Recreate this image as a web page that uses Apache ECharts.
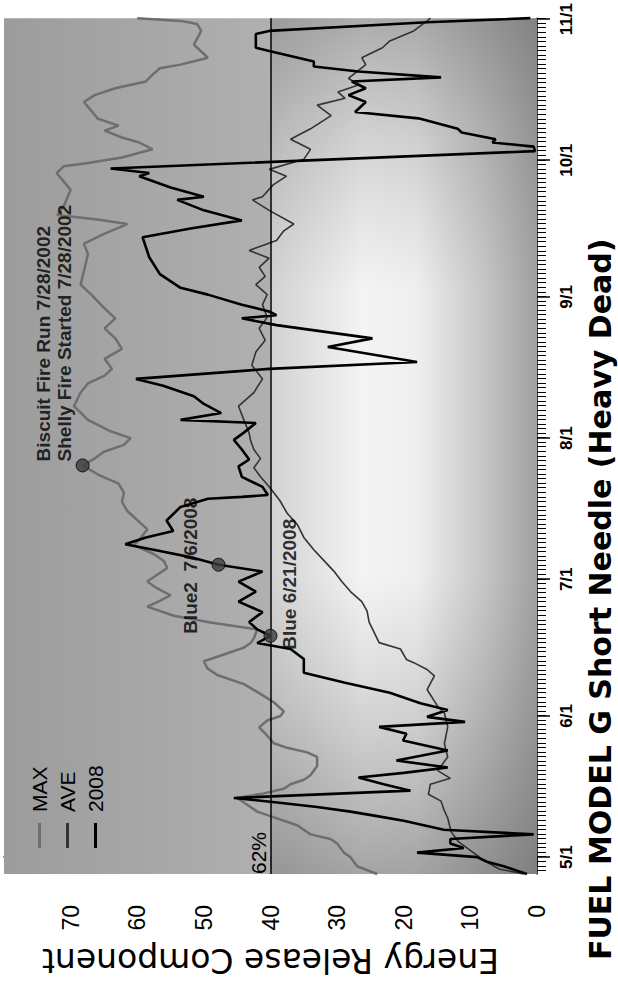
<!DOCTYPE html>
<html>
<head>
<meta charset="utf-8">
<script src="https://cdn.jsdelivr.net/npm/echarts@6/dist/echarts.min.js"></script>
<style>
html,body{margin:0;padding:0;background:#fff;overflow:hidden;width:618px;height:985px;}
#chart{position:absolute;left:0;top:0;width:985px;height:618px;transform-origin:0 0;transform:translateY(985px) rotate(-90deg);}
</style>
</head>
<body>
<div id="chart"></div>
<script>
// Day offsets counted from May 1 (5/1 = 0)
const dateTickDays = [0, 31, 61, 92, 123, 153, 184];
const dateTickLabels = ['5/1', '6/1', '7/1', '8/1', '9/1', '10/1', '11/1'];
const ercTicks = [0, 10, 20, 30, 40, 50, 60, 70];
const thresholdValue = 40;
const thresholdLabel = '62%';
const seriesNames = ['MAX', 'AVE', '2008'];

// [day, ERC]
const maxData = [[-3.7,24],[-2,27],[0,28],[1,29],[3,30],[4,31],[5,34],[7,36],[8,38],[9,40],[10,42],[11,43],[13,45],
[14,41],[15,38],[16,37],[17,35],[18,34],[20,33],[22,33],[23,34.5],[24,37.5],[25,39.5],[27,40.7],[28.5,41.7],[30,40.5],[31,38.5],[32,38],[34,39.5],[36,41.7],[38,44],[40,48],[41.5,49.5],[43,50],[44.5,47],[46,44],[47,43],[48,42.5],[50,42],[51.5,49],[53,54.5],[55,58.5],[56,57],[57.5,55],[59,57],[60.5,58.5],[62,57],[63.5,55.5],[65,56],[66.5,57.5],[68.5,60.5],[70,59.5],[72,58.5],[74,60],[76,61.5],[78,62.3],[80,62],[82,62.8],[84,65.9],[86,68.2],[87.5,66.4],[89,65],[90.5,62],[92,61],[93.5,64],[96,67.4],[99,69.5],[102,68.5],[104,67.4],[105.7,64.9],[107.2,63.8],[109.4,64.9],[111.6,62.3],[113.9,63.3],[116.1,64.9],[118.3,63.3],[120.5,64.9],[123.5,66.9],[125.7,68.5],[128.7,68],[132.4,67.4],[134.7,68],[136.9,64.9],[139,61.5],[140,66],[141,72],[143,71],[146.5,70],[150.2,72.1],[151.7,71],[152.4,67.4],[153.6,62.3],[155.4,57.7],[156.9,59.7],[158,62.3],[159.5,64.9],[160.6,62.8],[162.1,65.9],[165.8,68],[167.3,66.4],[168.8,63.3],[170.3,58.7],[171.8,57.7],[173.2,56.6],[174,53.5],[175.5,49.4],[178.4,51.5],[181.4,50.4],[182.9,51],[183.6,53.5],[184.2,60]];

const aveData = [[-3.7,2],[-2.6,5.7],[-0.4,8.3],[1.5,10],[3.4,11.8],[5.6,12.9],[8.6,13.4],[10.5,14],[12.3,14.4],[13.8,16.3],[16,16],[17.3,13],[19,14.9],[22,13.4],[24.9,13.9],[28.6,13.4],[31.6,13.9],[33.1,14.9],[36.8,16.5],[39.8,15.4],[41.2,16.5],[42.7,18.5],[43.4,19.6],[45.7,20.5],[47.1,23.7],[49.5,24.5],[51.6,25.2],[54,25.5],[56.1,26.3],[58.3,28],[60.5,29.3],[62.8,30.5],[65,31.9],[67.5,33.5],[70.2,35],[73.1,36],[75.5,37.5],[78.3,38.6],[81.3,40.2],[83.5,41.5],[85.5,42.5],[87.5,41.5],[89.5,42.5],[91.5,43],[93.1,43.2],[96,44],[99,44.8],[102,42.5],[105,41.2],[108,42.8],[110.9,42.2],[113.5,40.8],[116.1,41.7],[118.5,40.5],[121.3,41.2],[123.5,40.5],[125.7,42.2],[127.5,40.8],[129.5,41.7],[131.5,40.2],[133.2,43.2],[135.4,39.1],[137.5,38],[139,36.5],[142,40.2],[144.3,42.7],[145,41.2],[147.6,39.6],[149.5,37.6],[151,40.2],[153.2,35],[155.4,34],[156.9,36],[157.6,37],[159.9,34],[162.8,30.9],[165.1,33],[166.6,28.8],[168,29.9],[169.5,26.8],[171,28.3],[174,25.7],[175.5,26.3],[177.7,23.2],[179.2,22.1],[181.4,18.5],[183.6,16.5],[184.2,16]];

const y2008Data = [[-3.7,1.5],[-3,3],[-2,5],[-1,7.5],[0,9],[1,18],[2,11],[3,13],[4,13],[5,0.5],[6,14],[7,17],[8,20],[9,24],[10,28],[11,33],[12,39],[13,45.5],[14.6,19],[16,23],[17.5,26.8],[18.5,20],[19.7,13.4],[21.2,21.1],[23.4,13.4],[25.6,20.1],[27.1,19.6],[28.6,23.7],[29.7,10.8],[30.8,16.5],[32.3,13.4],[33.8,17.5],[36.1,22.1],[38.3,28.8],[40.5,35],[43.5,35],[45.7,37],[47,42],[48.6,40],[50,42],[51.6,43.2],[53.8,41.2],[56.1,44.8],[58.3,42.2],[60.5,44.8],[62.7,41.2],[64.2,47.8],[65.7,51.5],[67.2,56.6],[68.7,61.8],[70.2,58.7],[71.6,54.6],[73.9,55.6],[76.9,53.5],[78.7,49.4],[79.1,44.3],[79.5,40.4],[81.3,41.2],[83.5,44.3],[85.8,44.8],[87.3,43.2],[89.5,44.3],[91.6,45.5],[93.2,44],[95.3,42.2],[96,53.5],[97.5,47.4],[99.5,50],[101.2,51.5],[103.5,56.1],[105,60.2],[107.2,40.2],[108.7,18],[112,31.4],[113.9,24.7],[116.8,39.1],[118.3,44.3],[119,39.1],[119.8,40.2],[121.3,44.3],[123.5,49.4],[125,53.5],[128,56.6],[131.7,58.2],[136.1,59.2],[138,52],[139.8,44.3],[142,50],[144.3,54],[145,50],[147,55],[149.5,59.7],[150.2,58.2],[151.2,64],[155,0.3],[156,0.5],[156.9,6.7],[157.6,6.2],[159.1,11.3],[159.9,11.9],[162.2,17.8],[163.6,27.3],[165.8,25.7],[167.3,28.3],[168.8,25.7],[170.3,27.8],[171.2,14.4],[172.5,26.8],[173.6,33.5],[174.7,33.5],[177,40.2],[177.7,42.2],[180.7,42.2],[181.4,40.2],[183.3,16.5],[184.2,1]];

// Event markers: [day, ERC]
const eventPoints = [[48.6, 40], [64.2, 47.8], [86, 68.2]];
const eventLabels = ['Blue 6/21/2008', 'Blue2  7/6/2008', 'Biscuit Fire Run 7/28/2002\nShelly Fire Started 7/28/2002'];

const dayMin = -3.7, dayMax = 184.2;
const dailyTicks = [];
for (let d = Math.ceil(dayMin); d <= dayMax; d++) dailyTicks.push(d);

const labelStyles = [
  {position: [-7, 26], align: 'left', verticalAlign: 'middle'},
  {position: [6, -21.5], align: 'center', verticalAlign: 'middle'},
  {position: [11, -21.5], align: 'left', verticalAlign: 'middle', lineHeight: 21}
];

const chart = echarts.init(document.getElementById('chart'), null, {renderer: 'svg', width: 985, height: 618});

const option = {
  backgroundColor: '#ffffff',
  animation: false,
  title: {
    text: 'FUEL MODEL G Short Needle (Heavy Dead)',
    left: 25, top: 585, padding: 0,
    textStyle: {fontFamily: 'DejaVu Sans', fontWeight: 'bold', fontSize: 30, lineHeight: 30, color: '#000'}
  },
  legend: {
    data: seriesNames,
    orient: 'vertical',
    left: 132, top: 24,
    itemWidth: 25, itemHeight: 3, itemGap: 7,
    icon: 'rect',
    textStyle: {fontFamily: 'Liberation Sans', fontSize: 21, color: '#000', padding: [0, 0, 0, 6]}
  },
  grid: {left: 97, right: 18, top: 4, bottom: 81, containLabel: false},
  xAxis: [
    {
      type: 'value', min: dayMin, max: dayMax, position: 'bottom',
      axisLine: {show: true, lineStyle: {color: '#000', width: 1.5}},
      axisTick: {show: true, customValues: dailyTicks, length: 9, lineStyle: {color: '#000', width: 1}},
      axisLabel: {show: false},
      splitLine: {show: false}
    },
    {
      type: 'value', min: dayMin, max: dayMax, position: 'bottom',
      axisLine: {show: false},
      axisTick: {show: true, customValues: dateTickDays, length: 13, lineStyle: {color: '#000', width: 1.5}},
      axisLabel: {
        show: true, customValues: dateTickDays, margin: 21,
        formatter: v => dateTickLabels[dateTickDays.indexOf(v)] || '',
        fontFamily: 'Liberation Sans', fontWeight: 'bold', fontSize: 17, color: '#000'
      },
      splitLine: {show: false}
    }
  ],
  yAxis: {
    type: 'value', min: 0, max: 80,
    name: 'Energy Release Component', nameLocation: 'middle', nameGap: 70,
    nameTextStyle: {fontFamily: 'DejaVu Sans', fontSize: 33, lineHeight: 33, color: '#000'},
    axisLine: {show: true, lineStyle: {color: '#000', width: 1.5}},
    axisTick: {show: true, customValues: ercTicks, length: 10, lineStyle: {color: '#000', width: 1.5}},
    axisLabel: {show: true, customValues: ercTicks, margin: 31, fontFamily: 'Liberation Sans', fontSize: 23, color: '#000'},
    splitLine: {show: false}
  },
  series: [
    {
      name: 'bg', type: 'line', data: maxData, z: 1, silent: true, showSymbol: false,
      lineStyle: {opacity: 0}, itemStyle: {opacity: 0},
      markArea: {
        silent: true,
        data: [
          [{yAxis: thresholdValue, itemStyle: {color: {type: 'linear', x: 0, y: 0, x2: 0, y2: 1, colorStops: [
            {offset: 0, color: '#9c9c9c'}, {offset: 1, color: '#b0b0b0'}]}}}, {yAxis: 80}],
          [{yAxis: 0, itemStyle: {color: {type: 'linear', x: 0, y: 0, x2: 0, y2: 1, colorStops: [
            {offset: 0, color: '#d2d2d2'}, {offset: 0.35, color: '#f4f4f4'}, {offset: 0.55, color: '#efefef'},
            {offset: 0.8, color: '#c6c6c6'}, {offset: 1, color: '#a0a0a0'}]}}}, {yAxis: thresholdValue}],
          [{yAxis: 0, itemStyle: {color: {type: 'linear', x: 0, y: 0, x2: 1, y2: 0, colorStops: [
            {offset: 0, color: 'rgba(100,100,100,0.55)'}, {offset: 0.18, color: 'rgba(110,110,110,0.25)'},
            {offset: 0.35, color: 'rgba(128,128,128,0)'}, {offset: 0.68, color: 'rgba(128,128,128,0)'},
            {offset: 0.86, color: 'rgba(110,110,110,0.25)'}, {offset: 1, color: 'rgba(100,100,100,0.5)'}]}}}, {yAxis: thresholdValue}]
        ]
      }
    },
    {
      name: 'MAX', type: 'line', data: maxData, z: 3, showSymbol: false, symbol: 'none',
      lineStyle: {color: '#6e6e6e', width: 2.5}, itemStyle: {color: '#6e6e6e'},
      markLine: {
        silent: true, symbol: 'none',
        lineStyle: {color: '#000', width: 1.5, type: 'solid'},
        label: {show: true, formatter: thresholdLabel, position: 'insideStartTop', distance: [0, 2],
          fontFamily: 'Liberation Sans', fontSize: 21, color: '#000'},
        data: [{yAxis: thresholdValue}]
      }
    },
    {
      name: 'AVE', type: 'line', data: aveData, z: 4, showSymbol: false, symbol: 'none',
      lineStyle: {color: '#333333', width: 1.6}, itemStyle: {color: '#333333'}
    },
    {
      name: '2008', type: 'line', data: y2008Data, z: 5, showSymbol: false, symbol: 'none',
      lineStyle: {color: '#000000', width: 2.6}, itemStyle: {color: '#000000'}
    },
    {
      name: 'events', type: 'scatter', z: 6, symbolSize: 13,
      itemStyle: {color: '#3c3c3c', borderColor: '#000', borderWidth: 1},
      data: eventPoints.map((p, i) => ({
        value: p,
        label: Object.assign({show: true, formatter: eventLabels[i], fontFamily: 'Liberation Sans',
          fontWeight: 'bold', fontSize: 19, color: '#000'}, labelStyles[i])
      }))
    }
  ]
};
chart.setOption(option);
</script>
</body>
</html>
